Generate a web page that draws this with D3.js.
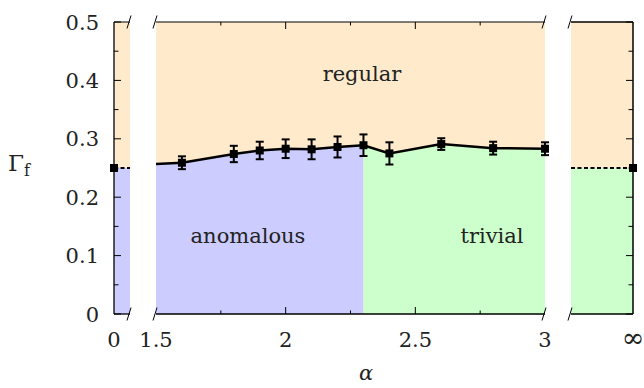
<!DOCTYPE html>
<html>
<head>
<meta charset="utf-8">
<script src="https://cdn.jsdelivr.net/npm/d3@7"></script>
<style>
  body { margin: 0; background: #fff; }
  text { font-family: "DejaVu Serif", "Liberation Serif", serif; fill: #222; }
</style>
</head>
<body>
<div id="chart"></div>
<script>
// data ------------------------------------------
const alphas = [1.6, 1.8, 1.9, 2.0, 2.1, 2.2, 2.3, 2.4, 2.6, 2.8, 3.0];
const gammas = [0.259, 0.274, 0.280, 0.283, 0.282, 0.286, 0.289, 0.275, 0.291, 0.284, 0.283];
const errors = [0.011, 0.014, 0.015, 0.016, 0.017, 0.018, 0.0185, 0.019, 0.010, 0.011, 0.011];
const lineStart = { alpha: 1.5, gamma: 0.257 };   // where the curve enters the middle panel
const limitGamma = 0.25;                           // alpha = 0 and alpha = infinity
const phaseSplit = 2.3;                            // anomalous | trivial
const midTicks = [1.5, 2, 2.5, 3];
const yTicks = [0, 0.1, 0.2, 0.3, 0.4, 0.5];

const W = 644, H = 388;
const yTop = 22, yBot = 314;
const colRegular = '#ffebcc', colAnom = '#ccccff', colTriv = '#ccffcc';

const svg = d3.select('#chart').append('svg').attr('width', W).attr('height', H);

const y = d3.scaleLinear().domain([0, 0.5]).range([yBot, yTop]);
// three panels: alpha = 0 | 1.5..3 | infinity
const xL = d3.scaleLinear().domain([0, 1]).range([114, 130]);
const xM = d3.scaleLinear().domain([1.5, 3]).range([156, 545]);
const xR = d3.scaleLinear().domain([0, 1]).range([571, 633]);

// ---- fills
function panelFill(x0, x1, lower) {
  svg.append('rect').attr('x', x0).attr('y', yTop).attr('width', x1 - x0).attr('height', y(limitGamma) - yTop).attr('fill', colRegular);
  svg.append('rect').attr('x', x0).attr('y', y(limitGamma)).attr('width', x1 - x0).attr('height', yBot - y(limitGamma)).attr('fill', lower);
}
panelFill(xL(0), xL(1), colAnom);
panelFill(xR(0), xR(1), colTriv);

const curve = [lineStart].concat(alphas.map((a, i) => ({ alpha: a, gamma: gammas[i] })));
svg.append('rect').attr('x', xM(1.5)).attr('y', yTop).attr('width', xM(3) - xM(1.5)).attr('height', yBot - yTop).attr('fill', colRegular);
const area = d3.area().x(d => xM(d.alpha)).y0(yBot).y1(d => y(d.gamma));
svg.append('clipPath').attr('id', 'clipA').append('rect')
  .attr('x', xM(1.5)).attr('y', yTop).attr('width', xM(phaseSplit) - xM(1.5)).attr('height', yBot - yTop);
svg.append('clipPath').attr('id', 'clipT').append('rect')
  .attr('x', xM(phaseSplit)).attr('y', yTop).attr('width', xM(3) - xM(phaseSplit)).attr('height', yBot - yTop);
svg.append('path').datum(curve).attr('d', area).attr('fill', colAnom).attr('clip-path', 'url(#clipA)');
svg.append('path').datum(curve).attr('d', area).attr('fill', colTriv).attr('clip-path', 'url(#clipT)');

// ---- frame lines
const ax = svg.append('g').attr('stroke', '#000').attr('fill', 'none');
function hline(x0, x1, yy, w) { ax.append('line').attr('x1', x0).attr('x2', x1).attr('y1', yy).attr('y2', yy).attr('stroke-width', w); }
hline(xL(0), xL(1), yTop, 1); hline(xL(0), xL(1), yBot, 1.3);
hline(xM(1.5), xM(3), yTop, 1); hline(xM(1.5), xM(3), yBot, 1.3);
hline(xR(0), xR(1), yTop, 1.3); hline(xR(0), xR(1), yBot, 1.3);
ax.append('line').attr('x1', xL(0)).attr('x2', xL(0)).attr('y1', yTop).attr('y2', yBot).attr('stroke-width', 1.3);
ax.append('line').attr('x1', xR(1)).attr('x2', xR(1)).attr('y1', yTop).attr('y2', yBot).attr('stroke-width', 1.5);

// y ticks (inward), major every 0.1, minor every 0.05
d3.range(0, 0.501, 0.05).forEach((v, i) => {
  const len = i % 2 === 0 ? 7 : 4.5;
  ax.append('line').attr('x1', xL(0)).attr('x2', xL(0) + len).attr('y1', y(v)).attr('y2', y(v)).attr('stroke-width', 1);
  ax.append('line').attr('x1', xR(1)).attr('x2', xR(1) - len).attr('y1', y(v)).attr('y2', y(v)).attr('stroke-width', 1);
});
// x ticks on middle panel, top and bottom
d3.range(1.75, 2.9, 0.25).forEach(a => {
  const len = Math.abs(a * 2 - Math.round(a * 2)) < 1e-6 ? 7 : 3.5;
  ax.append('line').attr('x1', xM(a)).attr('x2', xM(a)).attr('y1', yBot).attr('y2', yBot - len).attr('stroke-width', 1);
  ax.append('line').attr('x1', xM(a)).attr('x2', xM(a)).attr('y1', yTop).attr('y2', yTop + len).attr('stroke-width', 1);
});
// axis break slashes
[xL(1) - 1, xM(1.5) - 1, xM(3) - 1, xR(0) - 1].forEach(bx => {
  [yTop, yBot].forEach(by => {
    ax.append('line').attr('x1', bx - 2).attr('y1', by + 6.5).attr('x2', bx + 2).attr('y2', by - 6.5).attr('stroke-width', 1);
  });
});

// ---- tick labels
const fs = 21;
yTicks.forEach(v => {
  svg.append('text').attr('x', 99).attr('y', y(v)).attr('dy', '0.36em').attr('text-anchor', 'end')
    .style('font-size', fs + 'px').text(v === 0 ? '0' : d3.format('.1f')(v));
});
const xLabels = [{ x: xL(0), t: '0', s: fs }].concat(midTicks.map(a => ({ x: xM(a), t: String(a), s: fs })), [{ x: xR(1), t: '\u221E', s: 27 }]);
xLabels.forEach(d => {
  svg.append('text').attr('x', d.x).attr('y', 347).attr('text-anchor', 'middle').style('font-size', d.s + 'px').text(d.t);
});

// axis titles
const gl = svg.append('text').attr('x', 8).attr('y', 171).style('font-size', '23px');
gl.append('tspan').text('\u0393');
gl.append('tspan').attr('dy', 5).style('font-size', '16px').text('f');
svg.append('text').attr('x', 366).attr('y', 380).attr('text-anchor', 'middle').style('font-size', '21px').style('font-style', 'italic').text('\u03B1');

// region labels
svg.append('text').attr('x', 362).attr('y', 81).attr('text-anchor', 'middle').style('font-size', fs + 'px').text('regular');
svg.append('text').attr('x', 248).attr('y', 243).attr('text-anchor', 'middle').style('font-size', fs + 'px').text('anomalous');
svg.append('text').attr('x', 492).attr('y', 243).attr('text-anchor', 'middle').style('font-size', fs + 'px').text('trivial');

// ---- limit lines (dashed) and markers
function dashed(x0, x1) {
  svg.append('line').attr('x1', x0).attr('x2', x1).attr('y1', y(limitGamma)).attr('y2', y(limitGamma))
    .attr('stroke', '#000').attr('stroke-width', 2).attr('stroke-dasharray', '4,2.5');
}
dashed(xL(0), xL(1));
dashed(xR(0), xR(1));

const ms = 8;
function marker(px, py) {
  svg.append('rect').attr('x', px - ms / 2).attr('y', py - ms / 2).attr('width', ms).attr('height', ms).attr('fill', '#000');
}
marker(xL(0), y(limitGamma));
marker(xR(1), y(limitGamma));

// ---- curve with error bars
svg.append('path').datum(curve)
  .attr('d', d3.line().x(d => xM(d.alpha)).y(d => y(d.gamma)))
  .attr('fill', 'none').attr('stroke', '#000').attr('stroke-width', 2.5);
alphas.forEach((a, i) => {
  const px = xM(a), y0 = y(gammas[i] - errors[i]), y1 = y(gammas[i] + errors[i]);
  const g = svg.append('g').attr('stroke', '#000').attr('stroke-width', 2);
  g.append('line').attr('x1', px).attr('x2', px).attr('y1', y0).attr('y2', y1);
  g.append('line').attr('x1', px - 4).attr('x2', px + 4).attr('y1', y0).attr('y2', y0);
  g.append('line').attr('x1', px - 4).attr('x2', px + 4).attr('y1', y1).attr('y2', y1);
  marker(px, y(gammas[i]));
});
</script>
</body>
</html>
